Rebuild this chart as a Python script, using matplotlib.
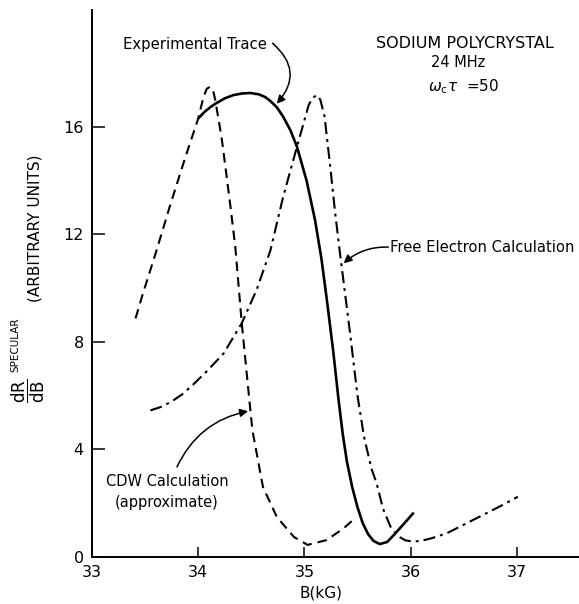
import matplotlib
matplotlib.use("Agg")
import matplotlib.pyplot as plt

# experimental trace (solid)
exp_b = [34.00, 34.06, 34.12, 34.17, 34.25, 34.33, 34.41, 34.49, 34.57, 34.63,
         34.68, 34.74, 34.80, 34.87, 34.93, 35.02, 35.10, 35.16, 35.21, 35.27,
         35.32, 35.36, 35.40, 35.45, 35.50, 35.55, 35.60, 35.65, 35.71, 35.78,
         35.85, 35.94, 36.03]
exp_r = [16.30, 16.55, 16.74, 16.87, 17.05, 17.17, 17.23, 17.25, 17.20, 17.10,
         16.95, 16.72, 16.37, 15.85, 15.25, 14.00, 12.53, 11.10, 9.60, 7.70,
         5.90, 4.60, 3.55, 2.60, 1.85, 1.25, 0.85, 0.60, 0.48, 0.56,
         0.85, 1.25, 1.65]

# free electron calculation (dash-dot)
fe_b = [33.55, 33.65, 33.75, 33.85, 33.95, 34.08, 34.24, 34.41, 34.55, 34.68,
        34.80, 34.93, 35.04, 35.08, 35.12, 35.15, 35.19, 35.24, 35.29, 35.335,
        35.43, 35.50, 35.56, 35.63, 35.68, 35.74, 35.81, 35.88, 35.95, 36.03,
        36.12, 36.20, 36.34, 36.50, 36.70, 36.85, 37.01]
fe_r = [5.45, 5.58, 5.78, 6.05, 6.40, 6.90, 7.57, 8.69, 9.93, 11.40,
        13.39, 15.25, 16.80, 17.08, 17.17, 17.00, 16.37, 14.63, 12.78, 11.29,
        8.32, 6.00, 4.50, 3.30, 2.74, 1.80, 1.13, 0.78, 0.62, 0.57,
        0.62, 0.70, 0.88, 1.20, 1.60, 1.90, 2.24]

# CDW calculation (dashed)
cdw_b = [33.41, 33.48, 33.60, 33.73, 33.87, 34.00, 34.05, 34.08, 34.11, 34.14,
         34.16, 34.22, 34.24, 34.30, 34.35, 34.41, 34.47, 34.51, 34.61, 34.74,
         34.90, 35.03, 35.21, 35.37, 35.48]
cdw_r = [8.87, 9.80, 11.30, 13.00, 14.75, 16.30, 17.10, 17.40, 17.48, 17.35,
         17.00, 15.60, 15.00, 13.15, 11.50, 8.70, 6.30, 4.72, 2.60, 1.49,
         0.75, 0.45, 0.63, 1.07, 1.45]

x_ticks = [33, 34, 35, 36, 37]
y_ticks = [0, 4, 8, 12, 16]

W, H = 579, 604
fig = plt.figure(figsize=(W / 100, H / 100), dpi=100)
ax = fig.add_axes([92 / W, 1 - 557 / H, (W - 92) / W, (557 - 10) / H])

ax.plot(exp_b, exp_r, color="black", lw=1.9, solid_capstyle="butt")
ax.plot(fe_b, fe_r, color="black", lw=1.5, linestyle=(0, (5.8, 2.4, 1.4, 2.4)))
ax.plot(cdw_b, cdw_r, color="black", lw=1.5, linestyle=(0, (4.6, 2.9)))

ax.set_xlim(33, 33 + (W - 92) / 106.2)
ax.set_ylim(0, (557 - 10) / 26.9)
ax.set_xticks(x_ticks)
ax.set_yticks(y_ticks)
ax.tick_params(axis="both", direction="in", labelsize=11.5, width=1.1)
ax.tick_params(axis="y", length=9, pad=6)
ax.tick_params(axis="x", length=7, pad=6)
for s in ["top", "right"]:
    ax.spines[s].set_visible(False)
for s in ["left", "bottom"]:
    ax.spines[s].set_linewidth(1.4)

# annotations
ax.text(36.51, 19.10, "SODIUM POLYCRYSTAL", ha="center", va="center", fontsize=11.5)
ax.text(36.45, 18.40, "24 MHz", ha="center", va="center", fontsize=10.5)
ax.text(36.50, 17.47, r"$\omega_{\rm c}\tau\ $ =50", ha="center", va="center", fontsize=11)

ax.text(33.97, 19.07, "Experimental Trace", ha="center", va="center", fontsize=10.7)
ax.annotate("", xy=(34.74, 16.85), xytext=(34.70, 19.10),
            arrowprops=dict(arrowstyle="-|>", color="black", lw=1.1, shrinkA=0, shrinkB=0,
                            mutation_scale=12, connectionstyle="arc3,rad=-0.5"))

ax.text(35.81, 11.49, "Free Electron Calculation", ha="left", va="center", fontsize=10.6)
ax.annotate("", xy=(35.37, 10.92), xytext=(35.79, 11.52),
            arrowprops=dict(arrowstyle="-|>", color="black", lw=1.1, shrinkA=0, shrinkB=0,
                            mutation_scale=12, connectionstyle="arc3,rad=0.2"))

ax.text(33.706, 2.79, "CDW Calculation", ha="center", va="center", fontsize=10.5)
ax.text(33.706, 2.04, "(approximate)", ha="center", va="center", fontsize=10.5)
ax.annotate("", xy=(34.47, 5.42), xytext=(33.80, 3.35),
            arrowprops=dict(arrowstyle="-|>", color="black", lw=1.1, shrinkA=0, shrinkB=0,
                            mutation_scale=12, connectionstyle="arc3,rad=-0.25"))

# axis labels
ax.text(35.16, -1.35, "B(kG)", ha="center", va="center", fontsize=11)
fig.text(28 / W, 1 - 391 / H, r"$\dfrac{\mathrm{dR}}{\mathrm{dB}}$", rotation=90,
         ha="center", va="center", fontsize=12)
fig.text(15 / W, 1 - 345 / H, "SPECULAR", rotation=90, ha="center", va="center", fontsize=7.5)
fig.text(35 / W, 1 - 228 / H, "(ARBITRARY UNITS)", rotation=90, ha="center", va="center",
         fontsize=11)

fig.savefig("out.png", dpi=100)
